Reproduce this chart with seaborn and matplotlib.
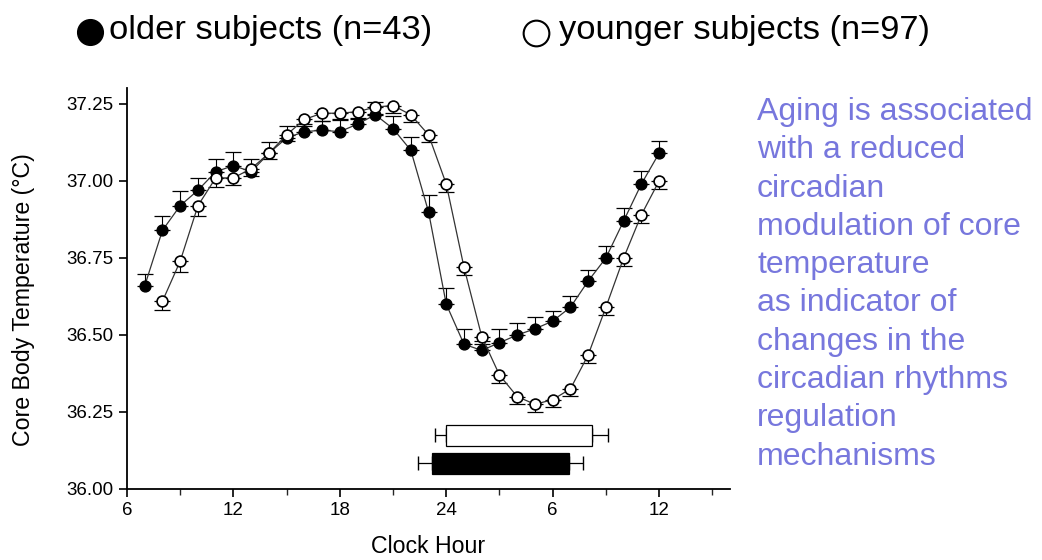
import numpy as np
import pandas as pd
import matplotlib
matplotlib.use("Agg")
import matplotlib.pyplot as plt
from matplotlib.lines import Line2D
import seaborn as sns

# ---------------- data ----------------
hours_older = list(range(7, 37))
temp_older = [36.66, 36.84, 36.92, 36.97, 37.03, 37.05, 37.03, 37.09, 37.14, 37.16,
              37.165, 37.16, 37.185, 37.215, 37.17, 37.10, 36.90, 36.60, 36.47, 36.45,
              36.475, 36.50, 36.52, 36.545, 36.59, 36.675, 36.75, 36.87, 36.99, 37.09]
err_older = [0.038, 0.045, 0.048, 0.040, 0.042, 0.045, 0.040, 0.035, 0.040, 0.025,
             0.030, 0.037, 0.020, 0.042, 0.040, 0.043, 0.056, 0.052, 0.048, 0.030,
             0.043, 0.040, 0.037, 0.034, 0.036, 0.035, 0.038, 0.041, 0.044, 0.041]

hours_younger = list(range(8, 37))
temp_younger = [36.61, 36.74, 36.92, 37.01, 37.01, 37.04, 37.09, 37.15, 37.20, 37.22,
                37.22, 37.225, 37.24, 37.245, 37.215, 37.15, 36.99, 36.72, 36.495, 36.37,
                36.30, 36.275, 36.29, 36.325, 36.435, 36.59, 36.75, 36.89, 37.00]
err_younger = [0.030, 0.034, 0.034, 0.030, 0.023, 0.023, 0.020, 0.020, 0.022, 0.024,
               0.020, 0.023, 0.023, 0.023, 0.023, 0.024, 0.026, 0.026, 0.025, 0.025,
               0.024, 0.025, 0.025, 0.024, 0.025, 0.026, 0.027, 0.027, 0.027]

# sleep episode bars: start, end, start SD reach, end SD reach, level
sleep_groups = ["younger", "older"]
sleep_start = [24.0, 23.18]
sleep_end = [32.2, 30.94]
sleep_start_lo = [23.35, 22.4]
sleep_end_hi = [33.1, 31.73]
sleep_level = [36.174, 36.083]

tick_pos = [6, 12, 18, 24, 30, 36]
tick_labels = ["6", "12", "18", "24", "6", "12"]

legend_labels = ["older subjects (n=43)", "younger subjects (n=97)"]
note_text = ("Aging is associated\nwith a reduced\ncircadian\nmodulation of core\n"
             "temperature\nas indicator of\nchanges in the\ncircadian rhythms\n"
             "regulation\nmechanisms")

# ---------------- style ----------------
sns.set_style("ticks")
plt.rcParams["font.family"] = ["Liberation Sans", "DejaVu Sans"]
plt.rcParams["text.color"] = "black"
plt.rcParams["axes.labelcolor"] = "black"

fig = plt.figure(figsize=(10.42, 5.6), dpi=100)
ax = fig.add_axes([0.1219, 0.1268, 0.5787, 0.7161])

df = pd.concat([
    pd.DataFrame({"hour": hours_older, "temp": temp_older, "group": "older"}),
    pd.DataFrame({"hour": hours_younger, "temp": temp_younger, "group": "younger"}),
])

# error bars (one-sided: older up, younger down)
ax.errorbar(hours_older, temp_older, yerr=[np.zeros(len(err_older)), err_older],
            fmt="none", ecolor="black", elinewidth=0.8, capsize=6, capthick=0.9, zorder=2)
ax.errorbar(hours_younger, temp_younger, yerr=[err_younger, np.zeros(len(err_younger))],
            fmt="none", ecolor="black", elinewidth=0.8, capsize=6, capthick=0.9, zorder=2)

sns.lineplot(data=df[df.group == "older"], x="hour", y="temp", ax=ax, color="#333333",
             lw=0.9, marker="o", markersize=7.8, markerfacecolor="black",
             markeredgecolor="black", markeredgewidth=1.0, zorder=3, legend=False)
sns.lineplot(data=df[df.group == "younger"], x="hour", y="temp", ax=ax, color="#333333",
             lw=0.9, marker="o", markersize=7.8, markerfacecolor="white",
             markeredgecolor="black", markeredgewidth=1.2, zorder=4, legend=False)

# sleep bars
bar_h = 0.067
for g, s, e, lo, hi, lev in zip(sleep_groups, sleep_start, sleep_end,
                                sleep_start_lo, sleep_end_hi, sleep_level):
    fc = "white" if g == "younger" else "black"
    ax.barh(lev, e - s, left=s, height=bar_h, color=fc, edgecolor="black", lw=0.9, zorder=3)
    ax.errorbar([s], [lev], xerr=[[s - lo], [0]], fmt="none", ecolor="black",
                elinewidth=0.9, capsize=5, zorder=2)
    ax.errorbar([e], [lev], xerr=[[0], [hi - e]], fmt="none", ecolor="black",
                elinewidth=0.9, capsize=5, zorder=2)

ax.set_xlim(6, 40)
ax.set_ylim(36.0, 37.302)
ax.set_xticks(tick_pos)
ax.set_xticklabels(tick_labels)
ax.set_xticks(np.arange(9, 40, 6), minor=True)
ax.set_yticks([36.0, 36.25, 36.5, 36.75, 37.0, 37.25])
ax.set_yticklabels(["36.00", "36.25", "36.50", "36.75", "37.00", "37.25"])
ax.tick_params(axis="both", which="major", direction="out", length=6, width=1.2,
               labelsize=13.5, colors="black")
ax.tick_params(axis="x", which="minor", direction="out", length=4, width=1.0)
for side in ["top", "right"]:
    ax.spines[side].set_visible(False)
for side in ["left", "bottom"]:
    ax.spines[side].set_linewidth(1.3)
    ax.spines[side].set_color("black")

ax.set_xlabel("Clock Hour", fontsize=16.7, color="black")
ax.set_ylabel("Core Body Temperature (\u00b0C)", fontsize=16.7, color="black")
ax.xaxis.set_label_coords(0.5, -0.115)
ax.yaxis.set_label_coords(-0.152, 0.471)
ax.grid(False)

# top legend (manual)
fig.add_artist(Line2D([90 / 1042], [1 - 32 / 560], transform=fig.transFigure,
                      marker="o", markersize=18.5, markerfacecolor="black",
                      markeredgecolor="black", linestyle="none"))
fig.add_artist(Line2D([536 / 1042], [1 - 33 / 560], transform=fig.transFigure,
                      marker="o", markersize=18.5, markerfacecolor="white",
                      markeredgecolor="black", markeredgewidth=1.5, linestyle="none"))
fig.text(109 / 1042, 1 - 30 / 560, legend_labels[0], fontsize=24.8, ha="left",
         va="center", color="black")
fig.text(559 / 1042, 1 - 30 / 560, legend_labels[1], fontsize=24.8, ha="left",
         va="center", color="black")

# annotation text
fig.text(757 / 1042, 1 - 97 / 560, note_text, fontsize=23, color="#7777dd",
         ha="left", va="top", linespacing=1.36)

fig.savefig("out.png", dpi=100)
